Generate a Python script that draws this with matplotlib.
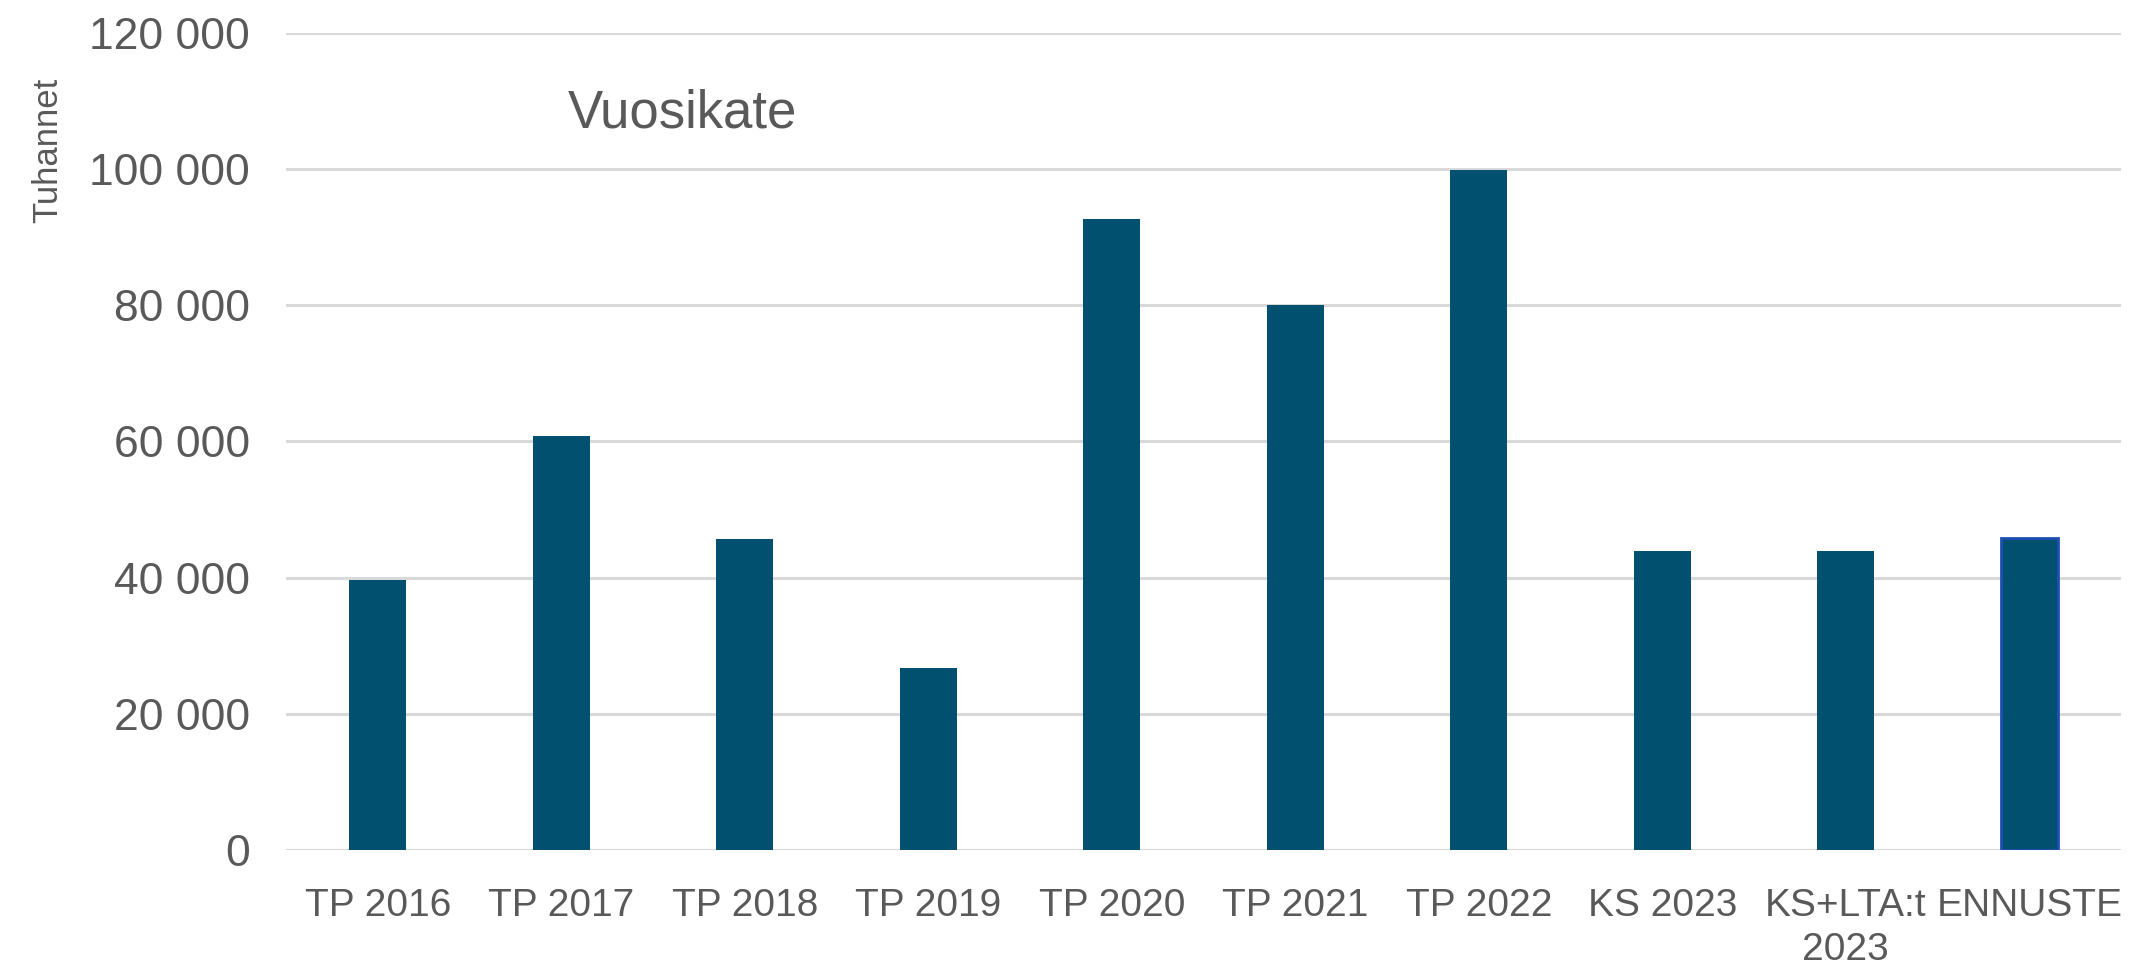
import numpy as np
import matplotlib.pyplot as plt

# Data (thousands of euros)
categories = ["TP 2016", "TP 2017", "TP 2018", "TP 2019", "TP 2020",
              "TP 2021", "TP 2022", "KS 2023", "KS+LTA:t\n2023", "ENNUSTE"]
values = [39700, 60800, 45700, 26700, 92600, 80000, 99800, 43900, 43900, 45800]
y_ticks = [0, 20000, 40000, 60000, 80000, 100000, 120000]

FONT = ["Liberation Sans", "DejaVu Sans"]
TEXT = "#595959"
BAR = "#02506f"


def fmt(v):
    return f"{v:,}".replace(",", " ")


def main():
    fig = plt.figure(figsize=(21.3, 9.71), dpi=100)
    ax = fig.add_axes([286 / 2130, 121 / 971, 1835 / 2130, 817.4 / 971])

    x = np.arange(len(categories))
    bars = ax.bar(x, values, width=0.31, color=BAR, zorder=3)
    # forecast bar has a blue outline
    bars[-1].set_edgecolor("#1d4fb3")
    bars[-1].set_linewidth(2)

    ax.set_xlim(-0.5, len(categories) - 0.5)
    ax.set_ylim(0, 120000)
    ax.set_yticks(y_ticks)
    ax.set_yticklabels([fmt(v) for v in y_ticks], family=FONT, fontsize=32, color=TEXT)
    ax.set_xticks(x)
    ax.set_xticklabels(categories, family=FONT, fontsize=28, color=TEXT, linespacing=1.3)
    ax.tick_params(axis="both", length=0)
    ax.tick_params(axis="y", pad=26)
    ax.tick_params(axis="x", pad=27)

    ax.grid(axis="y", color="#d9d9d9", linewidth=2.2, zorder=0)
    for s in ax.spines.values():
        s.set_visible(False)

    fig.text(568 / 2130, 1 - 113 / 971, "Vuosikate", family=FONT, fontsize=38,
             color=TEXT, ha="left", va="center")
    fig.text(48 / 2130, 1 - 150 / 971, "Tuhannet", family=FONT, fontsize=25, color=TEXT,
             rotation=90, ha="center", va="center")

    fig.savefig("out.png", dpi=100)


if __name__ == "__main__":
    main()
